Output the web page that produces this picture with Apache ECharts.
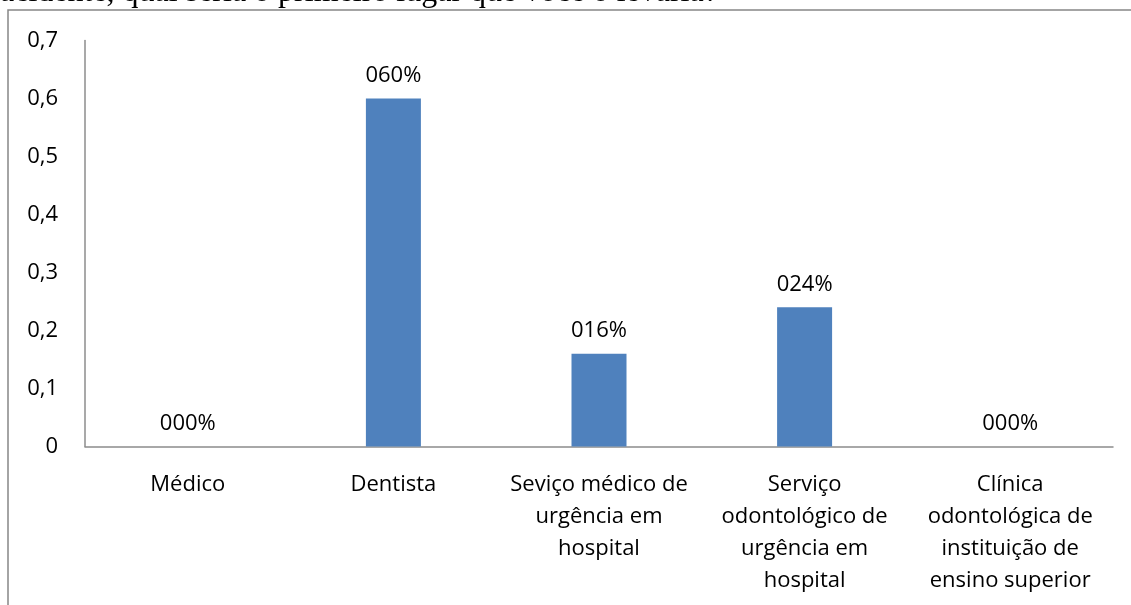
<!DOCTYPE html>
<html>
<head>
<meta charset="utf-8">
<script src="https://cdn.jsdelivr.net/npm/echarts@6/dist/echarts.min.js"></script>
<style>
  html, body { margin: 0; padding: 0; background: #fff; }
  #chart { width: 1131px; height: 605px; }
</style>
</head>
<body>
<div id="chart"></div>
<script>
// Question heading (partly above the page edge) and survey answers
const questionText = 'acidente, qual seria o primeiro lugar que você o levaria?';
const categories = [
  'Médico',
  'Dentista',
  'Seviço médico de\nurgência em\nhospital',
  'Serviço\nodontológico de\nurgência em\nhospital',
  'Clínica\nodontológica de\ninstituição de\nensino superior'
];
const shares = [0, 0.6, 0.16, 0.24, 0];
const yTicks = { min: 0, max: 0.7, interval: 0.1 };

const font = '"Open Sans", sans-serif';
const fontSize = 22;

// Percent label in the document's three-digit style, e.g. 0.6 -> "060%"
function pctLabel(v) {
  const n = Math.round(v * 100);
  return String(n).padStart(3, '0') + '%';
}

const chart = echarts.init(document.getElementById('chart'));
chart.setOption({
  animation: false,
  backgroundColor: '#ffffff',
  textStyle: { fontFamily: font },
  graphic: [
    {
      type: 'rect',
      shape: { x: 8, y: 10, width: 1140, height: 620 },
      style: { fill: 'none', stroke: '#878787', lineWidth: 1.5 },
      silent: true
    },
    {
      type: 'text',
      x: 0,
      y: -7,
      style: {
        text: questionText,
        font: '32px "Liberation Serif", "Times New Roman", serif',
        fill: '#000',
        verticalAlign: 'middle'
      }
    }
  ],
  grid: { left: 85, right: 18, top: 40.5, bottom: 158.5, containLabel: false },
  xAxis: {
    type: 'category',
    data: categories,
    axisLine: { lineStyle: { color: '#8c8c8c', width: 1.5 } },
    axisTick: { show: false },
    axisLabel: {
      interval: 0,
      color: '#000',
      fontFamily: font,
      fontSize: fontSize,
      lineHeight: 32,
      margin: 22,
      align: 'center'
    }
  },
  yAxis: {
    type: 'value',
    min: yTicks.min,
    max: yTicks.max,
    interval: yTicks.interval,
    splitLine: { show: false },
    axisLine: { show: true, lineStyle: { color: '#8c8c8c', width: 1.5 } },
    axisTick: { show: false },
    axisLabel: {
      color: '#000',
      fontFamily: font,
      fontSize: fontSize,
      margin: 27,
      formatter: v => (v === 0 ? '0' : v.toFixed(1).replace('.', ','))
    }
  },
  series: [{
    type: 'bar',
    data: shares,
    barWidth: 55,
    itemStyle: { color: '#4f81bd' },
    label: {
      show: true,
      position: 'top',
      distance: 12,
      color: '#000',
      fontFamily: font,
      fontSize: fontSize,
      formatter: p => pctLabel(p.value)
    }
  }]
});
</script>
</body>
</html>
